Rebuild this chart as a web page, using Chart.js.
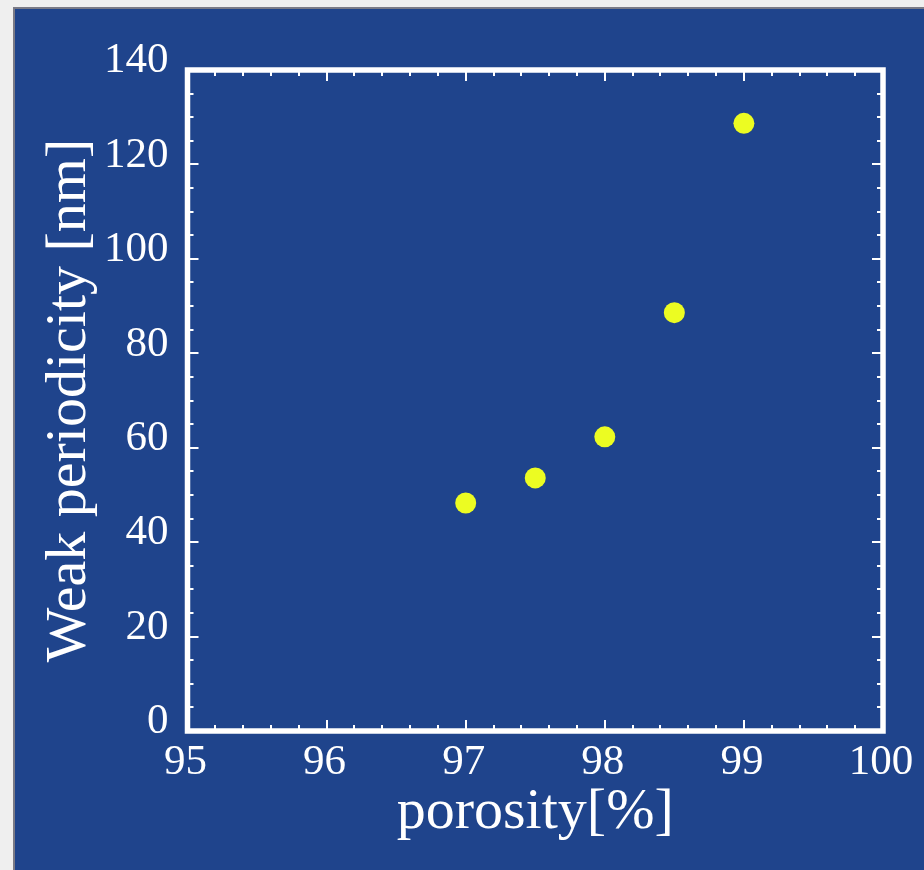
<!DOCTYPE html>
<html>
<head>
<meta charset="utf-8">
<script src="https://cdn.jsdelivr.net/npm/chart.js@4/dist/chart.umd.min.js"></script>
<style>
  html, body { margin: 0; padding: 0; background: #efefef; }
  #wrap { width: 924px; height: 870px; position: relative; }
</style>
</head>
<body>
<div id="wrap"><canvas id="c" width="924" height="870"></canvas></div>
<script>
// ---- data ----
const porosity = [97, 97.5, 98, 98.5, 99];
const weakPeriodicity = [48.3, 53.6, 62.3, 88.6, 128.7];
const xTickValues = [95, 96, 97, 98, 99, 100];
const yTickValues = [0, 20, 40, 60, 80, 100, 120, 140];
const xMinorStep = 0.2;
const yMinorStep = 5;
const xTitle = 'porosity[%]';
const yTitle = 'Weak periodicity [nm]';

const BLUE = '#1f448c';
const YELLOW = '#ecfc22';
const FONT = '"Liberation Serif", "DejaVu Serif", serif';

const points = porosity.map((x, i) => ({ x: x, y: weakPeriodicity[i] }));

const bgPlugin = {
  id: 'bg',
  beforeDraw(chart) {
    const ctx = chart.ctx;
    ctx.save();
    ctx.fillStyle = '#efefef';
    ctx.fillRect(0, 0, chart.width, chart.height);
    ctx.fillStyle = '#7a7a86';
    ctx.fillRect(13, 7, chart.width - 13, chart.height - 7);
    ctx.fillStyle = BLUE;
    ctx.fillRect(15, 9, chart.width - 15, chart.height - 9);
    ctx.restore();
  }
};

const framePlugin = {
  id: 'frame',
  afterDraw(chart) {
    const ctx = chart.ctx;
    const a = chart.chartArea;
    const xs = chart.scales.x, ys = chart.scales.y;
    ctx.save();
    ctx.strokeStyle = '#ffffff';
    ctx.lineCap = 'butt';
    ctx.lineWidth = 2;
    ctx.beginPath();
    const xmin = xTickValues[0], xmax = xTickValues[xTickValues.length - 1];
    const nx = Math.round((xmax - xmin) / xMinorStep);
    for (let i = 1; i < nx; i++) {
      const v = xmin + i * xMinorStep;
      const major = i % Math.round(1 / xMinorStep) === 0;
      const len = major ? 11 : 6;
      const px = Math.round(xs.getPixelForValue(v));
      ctx.moveTo(px, a.bottom); ctx.lineTo(px, a.bottom - len);
      ctx.moveTo(px, a.top); ctx.lineTo(px, a.top + len);
    }
    const ymin = yTickValues[0], ymax = yTickValues[yTickValues.length - 1];
    const ny = Math.round((ymax - ymin) / yMinorStep);
    for (let i = 1; i < ny; i++) {
      const v = ymin + i * yMinorStep;
      const major = i % Math.round(20 / yMinorStep) === 0;
      const len = major ? 11 : 6;
      const py = Math.round(ys.getPixelForValue(v));
      ctx.moveTo(a.left, py); ctx.lineTo(a.left + len, py);
      ctx.moveTo(a.right, py); ctx.lineTo(a.right - len, py);
    }
    ctx.stroke();
    ctx.lineWidth = 5.5;
    ctx.lineJoin = 'miter';
    ctx.strokeRect(a.left, a.top, a.right - a.left, a.bottom - a.top);
    ctx.restore();
  }
};

new Chart(document.getElementById('c'), {
  type: 'scatter',
  data: {
    datasets: [{
      data: points,
      backgroundColor: YELLOW,
      borderWidth: 0,
      pointRadius: 10.5,
      pointHoverRadius: 10.5
    }]
  },
  options: {
    responsive: false,
    animation: false,
    events: [],
    layout: { padding: { left: 0, right: 0, top: 70, bottom: 0 } },
    plugins: { legend: { display: false }, tooltip: { enabled: false } },
    scales: {
      x: {
        type: 'linear', position: 'bottom',
        min: 95, max: 100,
        afterBuildTicks(s) { s.ticks = xTickValues.map(v => ({ value: v })); },
        afterFit(s) { s.height = 139; },
        grid: { display: false, drawTicks: false },
        border: { display: false },
        ticks: { color: '#ffffff', font: { family: FONT, size: 43 }, padding: 6, maxRotation: 0, labelOffset: -2 },
        title: { display: true, text: xTitle, color: '#ffffff', font: { family: FONT, size: 58 }, padding: { top: 0, bottom: 22 } }
      },
      y: {
        type: 'linear', position: 'left',
        min: 0, max: 140,
        afterBuildTicks(s) { s.ticks = yTickValues.map(v => ({ value: v })); },
        afterFit(s) { s.width = 187.5; },
        grid: { display: false, drawTicks: false },
        border: { display: false },
        ticks: { color: '#ffffff', font: { family: FONT, size: 43 }, padding: 19, labelOffset: -9 },
        title: { display: true, text: yTitle, color: '#ffffff', font: { family: FONT, size: 58 }, padding: { top: 35, bottom: 0 } }
      },
      y2: {
        type: 'linear', position: 'right', display: true,
        min: 0, max: 140,
        afterFit(s) { s.width = 41; },
        grid: { display: false, drawTicks: false },
        border: { display: false },
        ticks: { display: false }
      }
    }
  },
  plugins: [bgPlugin, framePlugin]
});
</script>
</body>
</html>
